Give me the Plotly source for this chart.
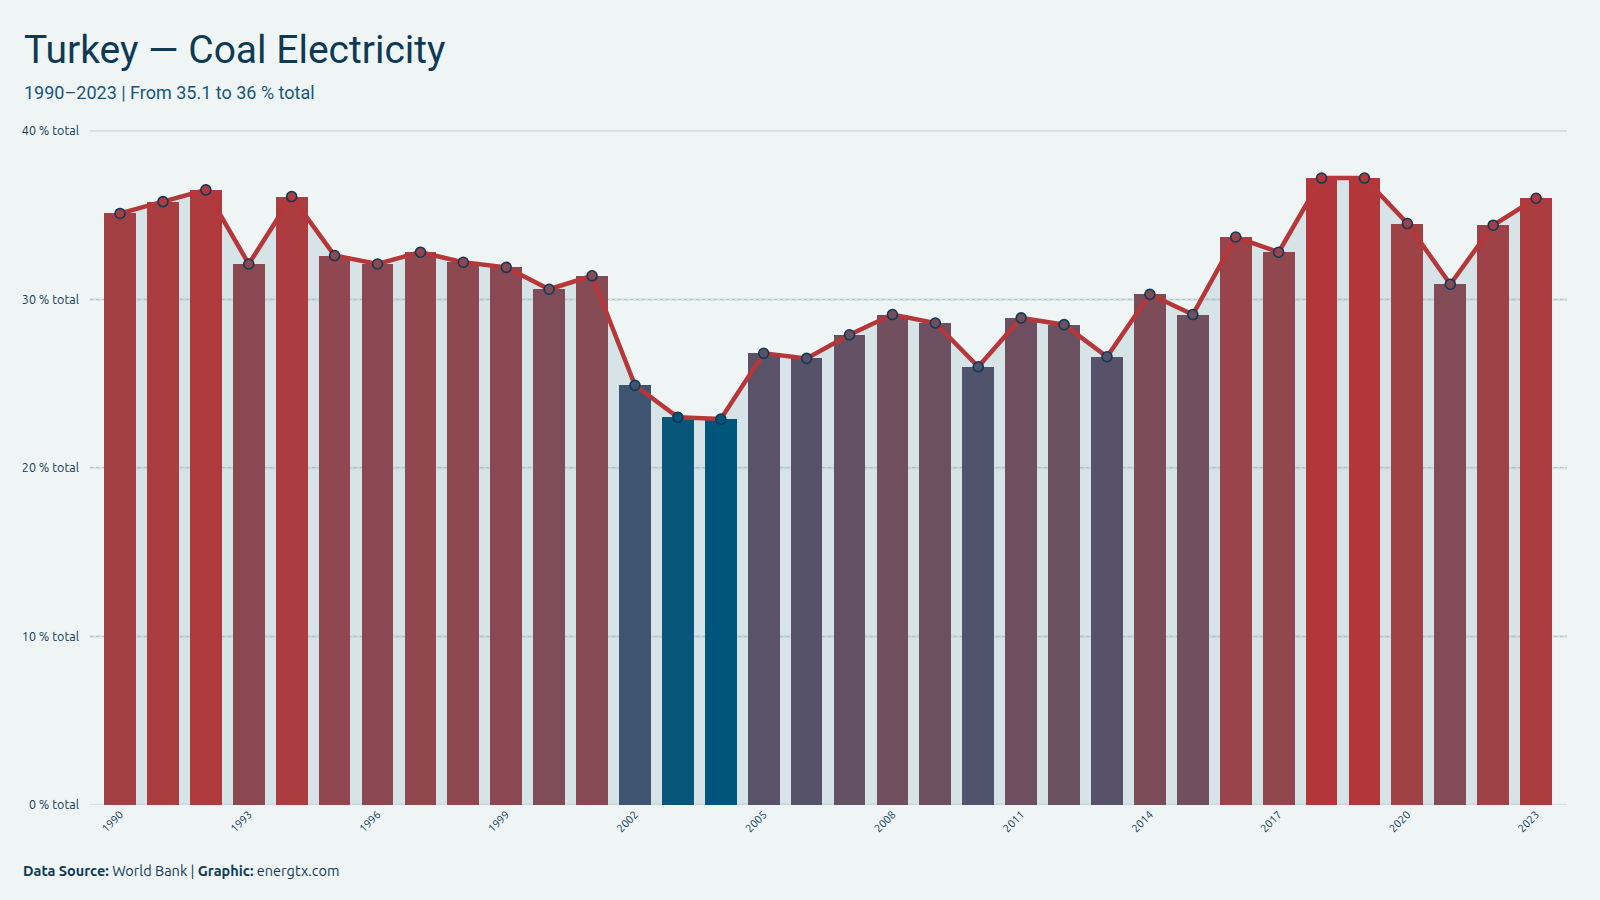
import plotly.graph_objects as go

years = list(range(1990, 2024))
values = [35.1, 35.8, 36.5, 32.1, 36.1, 32.6, 32.1, 32.8, 32.2, 31.9,
          30.6, 31.4, 24.9, 23.0, 22.9, 26.8, 26.5, 27.9, 29.1, 28.6,
          26.0, 28.9, 28.5, 26.6, 30.3, 29.1, 33.7, 32.8, 37.2, 37.2,
          34.5, 30.9, 34.4, 36.0]
y_ticks = [0, 10, 20, 30, 40]
y_tick_text = ["%d %% total" % v for v in y_ticks]
x_ticks = list(range(1990, 2024, 3))

LOW_COLOR = "#00567a"
HIGH_COLOR = "#b3373a"
BG = "#eff5f5"
NAVY = "#0e3a55"


def hex_rgb(h):
    h = h.lstrip("#")
    return [int(h[i:i + 2], 16) for i in (0, 2, 4)]


def to_lab(rgb):
    def lin(c):
        c = c / 255
        return c / 12.92 if c <= 0.04045 else ((c + 0.055) / 1.055) ** 2.4
    r, g, b = (lin(c) for c in rgb)
    x = (0.4124 * r + 0.3576 * g + 0.1805 * b) / 0.95047
    y = (0.2126 * r + 0.7152 * g + 0.0722 * b)
    z = (0.0193 * r + 0.1192 * g + 0.9505 * b) / 1.08883

    def f(t):
        return t ** (1 / 3) if t > 0.008856 else 7.787 * t + 16 / 116
    fx, fy, fz = f(x), f(y), f(z)
    return [116 * fy - 16, 500 * (fx - fy), 200 * (fy - fz)]


def from_lab(lab):
    L, a, b = lab
    fy = (L + 16) / 116
    fx = fy + a / 500
    fz = fy - b / 200

    def finv(t):
        return t ** 3 if t ** 3 > 0.008856 else (t - 16 / 116) / 7.787
    x, y, z = finv(fx) * 0.95047, finv(fy), finv(fz) * 1.08883
    r = 3.2406 * x - 1.5372 * y - 0.4986 * z
    g = -0.9689 * x + 1.8758 * y + 0.0415 * z
    bb = 0.0557 * x - 0.2040 * y + 1.0570 * z

    def gam(c):
        c = max(0.0, min(1.0, c))
        c = 12.92 * c if c <= 0.0031308 else 1.055 * c ** (1 / 2.4) - 0.055
        return int(round(c * 255))
    return "rgb(%d,%d,%d)" % (gam(r), gam(g), gam(bb))


lo_lab, hi_lab = to_lab(hex_rgb(LOW_COLOR)), to_lab(hex_rgb(HIGH_COLOR))
vmin, vmax = min(values), max(values)
colors = []
for v in values:
    t = (v - vmin) / (vmax - vmin)
    colors.append(from_lab([lo_lab[i] + t * (hi_lab[i] - lo_lab[i]) for i in range(3)]))

TITLE_FONT = "Roboto, sans-serif"
BODY_FONT = "Ubuntu, Open Sans, Lato, sans-serif"

fig = go.Figure()

# area under the line (main subplot, below bars)
fig.add_trace(go.Scatter(
    x=years, y=values, mode="none", fill="tozeroy",
    fillcolor="rgba(160,190,200,0.30)", hoverinfo="skip", showlegend=False,
    xaxis="x", yaxis="y"))

fig.add_trace(go.Bar(
    x=years, y=values, width=0.74, marker=dict(color=colors, line=dict(width=0)),
    showlegend=False, xaxis="x2", yaxis="y2"))

fig.add_trace(go.Scatter(
    x=years, y=values, mode="lines+markers",
    line=dict(color="#b5373a", width=4.5),
    marker=dict(size=10, color=colors, line=dict(color=NAVY, width=1.6)),
    showlegend=False, xaxis="x2", yaxis="y2"))

xr = [1989.30, 2023.72]
yr = [0, 40.05]

# solid light grid bands drawn beneath the dotted gridlines
for v in y_ticks:
    fig.add_shape(type="line", xref="paper", yref="y", x0=0, x1=1, y0=v, y1=v,
                  layer="below", line=dict(color="#d5e1e5", width=2.5))

fig.update_layout(
    width=1600, height=900,
    paper_bgcolor=BG, plot_bgcolor=BG,
    margin=dict(l=90, r=33, t=130, b=95),
    bargap=0,
    font=dict(family=BODY_FONT, color=NAVY),
    xaxis=dict(range=xr, tickvals=x_ticks, tickangle=-45, showgrid=False,
               zeroline=False, showline=False, ticks="",
               tickfont=dict(size=11, color=NAVY, family=BODY_FONT)),
    yaxis=dict(range=yr, tickvals=y_ticks, ticktext=y_tick_text,
               showgrid=True, gridcolor="#b2c2c8", gridwidth=1, griddash="dot",
               zeroline=False, showline=False, ticks="", ticklabelstandoff=10,
               tickfont=dict(size=12.5, color=NAVY, family=BODY_FONT)),
    xaxis2=dict(overlaying="x", range=xr, showticklabels=False,
                showgrid=False, zeroline=False, showline=False, ticks=""),
    yaxis2=dict(overlaying="y", range=yr, showticklabels=False, showgrid=False,
                zeroline=False, showline=False, ticks=""),
)

plot_h = 900 - 130 - 95
plot_w = 1600 - 90 - 33


def px_to_paper(px, py):
    return (px - 90) / plot_w, (805 - py) / plot_h


tx, ty = px_to_paper(22, 50)
fig.add_annotation(text="Turkey — Coal Electricity", xref="paper", yref="paper",
                   x=tx, y=ty, xanchor="left", yanchor="middle", showarrow=False,
                   font=dict(family=TITLE_FONT, size=39, color=NAVY))
sx, sy = px_to_paper(22, 93)
fig.add_annotation(text="1990–2023 | From 35.1 to 36 % total", xref="paper", yref="paper",
                   x=sx, y=sy, xanchor="left", yanchor="middle", showarrow=False,
                   font=dict(family=TITLE_FONT, size=18, color="#17567a"))
fx_, fy_ = px_to_paper(21, 870)
fig.add_annotation(text="<b>Data Source:</b> World Bank | <b>Graphic:</b> energtx.com",
                   xref="paper", yref="paper", x=fx_, y=fy_, xanchor="left",
                   yanchor="middle", showarrow=False,
                   font=dict(family=BODY_FONT, size=14.5, color=NAVY))

fig.write_html("out.html")
